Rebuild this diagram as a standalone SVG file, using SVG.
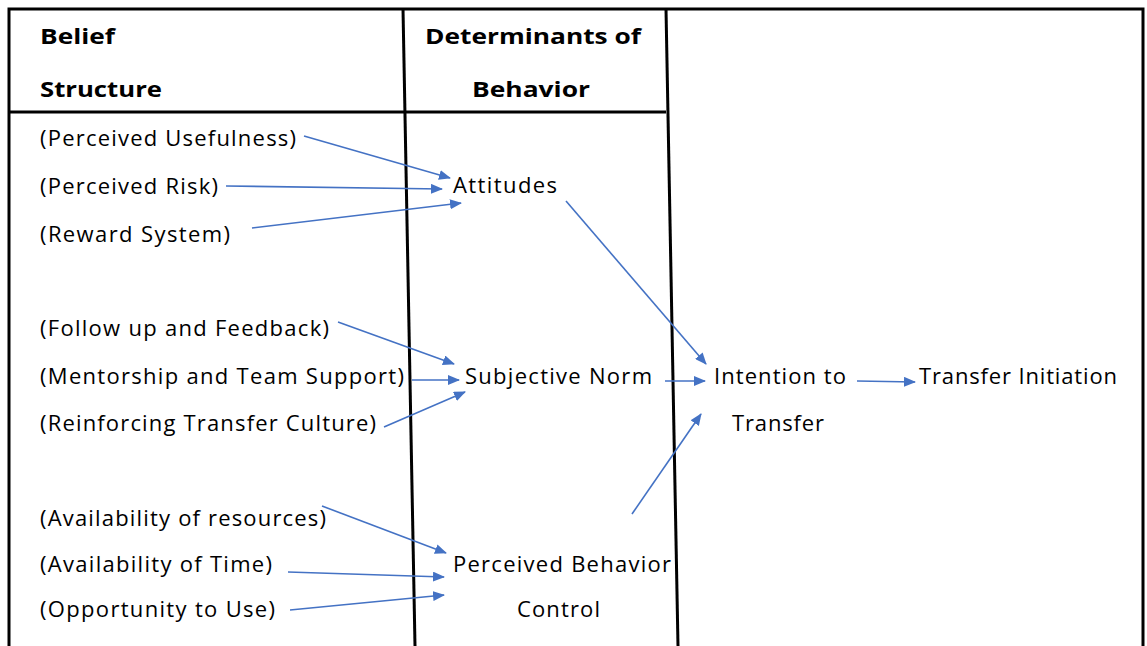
<svg xmlns="http://www.w3.org/2000/svg" width="1147" height="646" viewBox="0 0 1147 646">
  <style>
    .grid { stroke: #000; stroke-width: 3; fill: none; }
    .hdr { font-family: "Open Sans", "Noto Sans", "Liberation Sans", sans-serif; font-size: 22px; font-weight: bold; fill: #000; }
    .lbl { font-family: "Open Sans", "Noto Sans", "Liberation Sans", sans-serif; font-size: 22px; fill: #000; }
    .arr { stroke: #4472C4; stroke-width: 1.6; fill: none; marker-end: url(#head); }
  </style>
  <defs>
    <marker id="head" markerWidth="12" markerHeight="10" refX="11" refY="5" orient="auto" markerUnits="userSpaceOnUse">
      <path d="M0,0 L12,5 L0,10 Z" fill="#4472C4"/>
    </marker>
  </defs>
  <rect width="1147" height="646" fill="#fff"/>

  <!-- table frame -->
  <g id="frame">
    <path class="grid" d="M9,646 L9,9 L1143,9 L1143,646"/>
    <line class="grid" x1="9" y1="112" x2="666" y2="112"/>
    <line class="grid" x1="403" y1="9" x2="415" y2="646"/>
    <line class="grid" x1="666" y1="9" x2="678" y2="646"/>
  </g>

  <!-- column headers -->
  <g id="header-belief">
    <text class="hdr" x="40" y="44" textLength="75" lengthAdjust="spacingAndGlyphs">Belief</text>
    <text class="hdr" x="40" y="97" textLength="122" lengthAdjust="spacingAndGlyphs">Structure</text>
  </g>
  <g id="header-determinants">
    <text class="hdr" x="425" y="44" textLength="216" lengthAdjust="spacingAndGlyphs">Determinants of</text>
    <text class="hdr" x="472" y="97" textLength="118" lengthAdjust="spacingAndGlyphs">Behavior</text>
  </g>

  <!-- belief nodes -->
  <g id="n-usefulness"><text class="lbl" x="40" y="146" textLength="256">(Perceived Usefulness)</text></g>
  <g id="n-risk"><text class="lbl" x="40" y="194" textLength="178">(Perceived Risk)</text></g>
  <g id="n-reward"><text class="lbl" x="40" y="242" textLength="190">(Reward System)</text></g>
  <g id="n-follow"><text class="lbl" x="40" y="336" textLength="289">(Follow up and Feedback)</text></g>
  <g id="n-mentorship"><text class="lbl" x="40" y="384" textLength="364">(Mentorship and Team Support)</text></g>
  <g id="n-culture"><text class="lbl" x="40" y="431" textLength="336">(Reinforcing Transfer Culture)</text></g>
  <g id="n-resources"><text class="lbl" x="40" y="526" textLength="286">(Availability of resources)</text></g>
  <g id="n-time"><text class="lbl" x="40" y="572" textLength="232">(Availability of Time)</text></g>
  <g id="n-opportunity"><text class="lbl" x="40" y="617" textLength="235">(Opportunity to Use)</text></g>

  <!-- determinant nodes -->
  <g id="n-attitudes"><text class="lbl" x="453" y="193" textLength="104">Attitudes</text></g>
  <g id="n-norm"><text class="lbl" x="465" y="384" textLength="187">Subjective Norm</text></g>
  <g id="n-pbc">
    <text class="lbl" x="453" y="572" textLength="218">Perceived Behavior</text>
    <text class="lbl" x="517" y="617" textLength="83">Control</text>
  </g>

  <!-- outcome nodes -->
  <g id="n-intention">
    <text class="lbl" x="714" y="384" textLength="132">Intention to</text>
    <text class="lbl" x="732" y="431" textLength="92">Transfer</text>
  </g>
  <g id="n-initiation"><text class="lbl" x="919" y="384" textLength="198">Transfer Initiation</text></g>

  <!-- connectors -->
  <g id="connectors">
    <line class="arr" x1="304" y1="136" x2="450" y2="178"/>
    <line class="arr" x1="226" y1="186" x2="442" y2="189"/>
    <line class="arr" x1="252" y1="228" x2="461" y2="203"/>
    <line class="arr" x1="566" y1="201" x2="706" y2="364"/>
    <line class="arr" x1="338" y1="322" x2="454" y2="364"/>
    <line class="arr" x1="412" y1="380" x2="459" y2="380"/>
    <line class="arr" x1="384" y1="427" x2="465" y2="392"/>
    <line class="arr" x1="665" y1="381" x2="705" y2="381"/>
    <line class="arr" x1="632" y1="514" x2="701" y2="414"/>
    <line class="arr" x1="857" y1="381" x2="915" y2="382"/>
    <line class="arr" x1="322" y1="506" x2="446" y2="553"/>
    <line class="arr" x1="288" y1="572" x2="444" y2="577"/>
    <line class="arr" x1="290" y1="610" x2="444" y2="595"/>
  </g>
</svg>
